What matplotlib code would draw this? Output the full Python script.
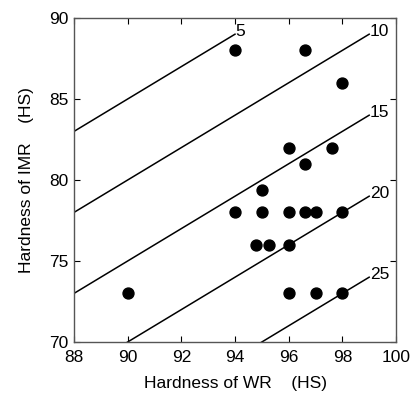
import numpy as np
import matplotlib.pyplot as plt

plt.rcParams["font.family"] = ["Liberation Sans", "DejaVu Sans"]
plt.rcParams["font.size"] = 12.5

# measured points
wr_hs = [90, 94, 96.6, 98, 96, 97.6, 96.6, 95, 94, 95, 96, 96.6, 97, 98,
         94.8, 95.25, 96, 96, 97, 98]
imr_hs = [73, 88, 88, 86, 82, 82, 81, 79.4, 78, 78, 78, 78, 78, 78,
          76, 76, 76, 73, 73, 73]

# reference lines: IMR = WR - diff
diffs = [5, 10, 15, 20, 25]
line_end = [94, 99, 99, 99, 99]

fig = plt.figure(figsize=(4.17, 3.98), dpi=100)
ax = fig.add_axes([74/417, 1 - 342/398, 322/417, 324/398])

for d, xe in zip(diffs, line_end):
    xs = np.array([88, xe])
    ax.plot(xs, xs - d, color="black", lw=1.1)
    ax.text(xe + 0.02, xe - d + 0.15, str(d), ha="left", va="center", fontsize=12.5)

ax.scatter(wr_hs, imr_hs, s=62, color="black", zorder=3)

ax.set_xlim(88, 100)
ax.set_ylim(70, 90)
ax.set_xticks(range(88, 101, 2))
ax.set_yticks(range(70, 91, 5))
ax.tick_params(direction="in", top=True, right=True, length=4, width=0.8,
               labelsize=12.5)
ax.tick_params(axis="x", pad=6)
ax.tick_params(axis="y", pad=4)
for s in ax.spines.values():
    s.set_color("#555555")
    s.set_linewidth(1.0)

ax.set_xlabel("Hardness of WR    (HS)", fontsize=12.5, labelpad=8)
ax.set_ylabel("Hardness of IMR    (HS)", fontsize=12.5, labelpad=11)

fig.savefig("out.png", dpi=100)
